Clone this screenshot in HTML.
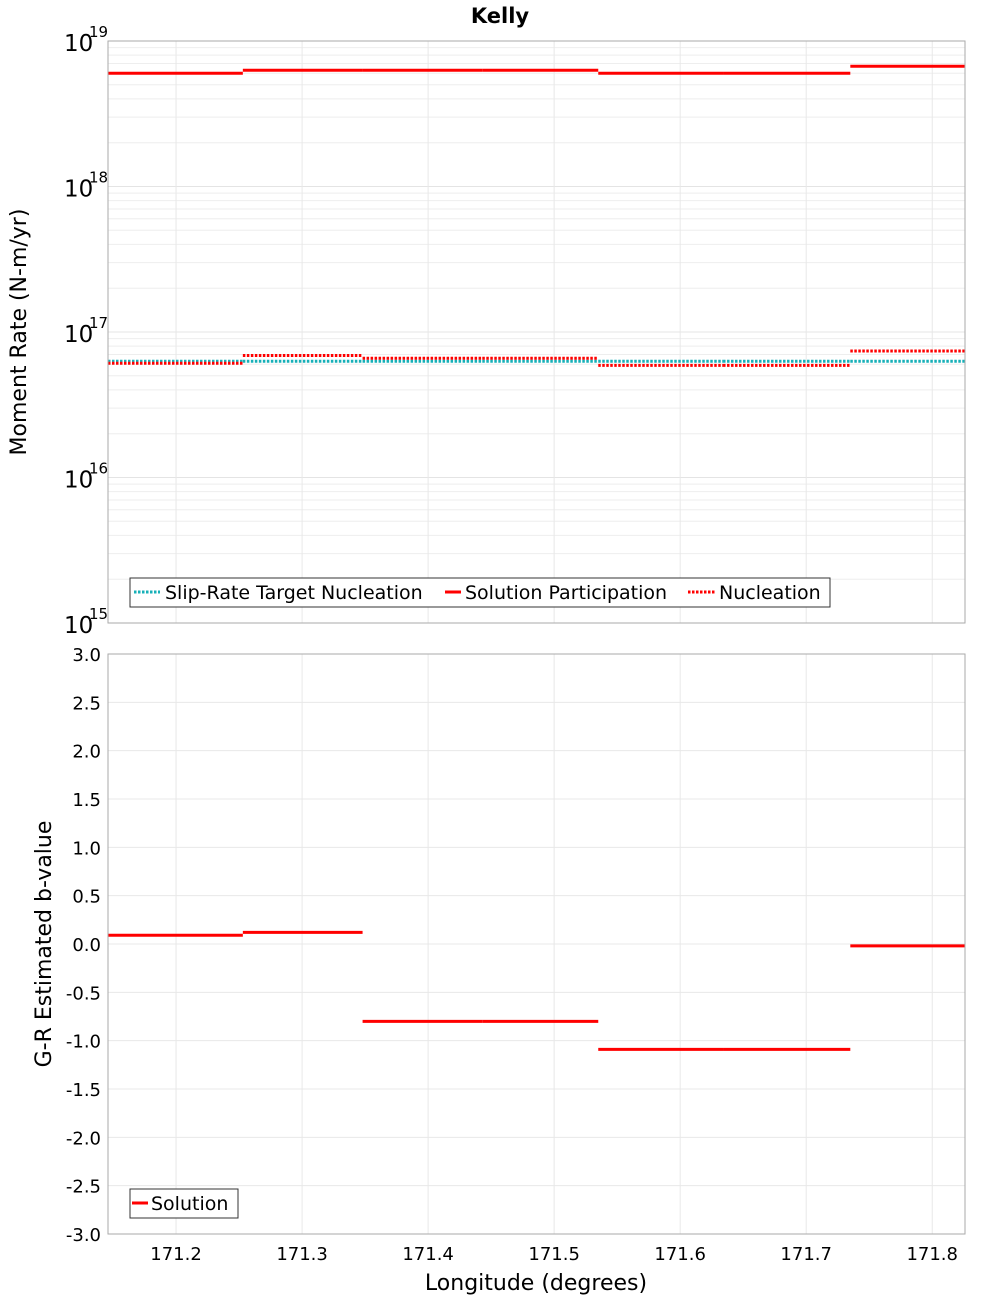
<!DOCTYPE html>
<html><head><meta charset="utf-8"><style>
body{margin:0;background:#fff;font-family:"Liberation Sans","DejaVu Sans",sans-serif;}
</style></head><body>
<svg id="c" width="1000" height="1300" xmlns="http://www.w3.org/2000/svg" font-family="DejaVu Sans, Liberation Sans, sans-serif"></svg>
<script>
const boundaries=[171.146,171.253,171.348,171.443,171.535,171.634,171.735,171.826];
const solutionParticipation=[6.0e18,6.3e18,6.3e18,6.3e18,6.0e18,6.0e18,6.7e18];
const targetNucleation=[6.3e16,6.3e16,6.3e16,6.3e16,6.3e16,6.3e16,6.3e16];
const nucleation=[6.1e16,6.9e16,6.6e16,6.6e16,5.9e16,5.9e16,7.4e16];
const bValues=[0.09,0.12,-0.80,-0.80,-1.09,-1.09,-0.02];
const xTicks=[171.2,171.3,171.4,171.5,171.6,171.7,171.8];
const logDecades=[15,16,17,18,19];
const bTicks=[3.0,2.5,2.0,1.5,1.0,0.5,0.0,-0.5,-1.0,-1.5,-2.0,-2.5,-3.0];

const svg=document.getElementById('c');const NS='http://www.w3.org/2000/svg';
function el(t,a,p,txt){const e=document.createElementNS(NS,t);for(const k in a)e.setAttribute(k,a[k]);if(txt!==undefined)e.textContent=txt;(p||svg).appendChild(e);return e;}
const L=108,R=965,T1=41,B1=623,T2=654,B2=1234;
const xMin=171.146,xMax=171.826;
const X=v=>L+(v-xMin)/(xMax-xMin)*(R-L);
const Y1=v=>B1-(Math.log10(v)-15)/4*(B1-T1);
const Y2=v=>B2-(v+3)/6*(B2-T2);

let t=el('text',{x:500,y:23,'text-anchor':'middle','font-size':21,'font-weight':'bold'},svg,'Kelly');


// Panel 1
const g1=el('g',{});
for(let d=15;d<19;d++)for(let m=2;m<=9;m++){const y=Y1(m*Math.pow(10,d));el('line',{x1:L,x2:R,y1:y,y2:y,stroke:'#eee','stroke-width':1},g1);}
logDecades.forEach(d=>{const y=Y1(Math.pow(10,d));el('line',{x1:L,x2:R,y1:y,y2:y,stroke:'#e4e4e4'},g1);
 const lt=el('text',{x:64,y:y+10,'font-size':23},g1,'10');
 el('text',{x:89,y:y-4,'font-size':15},g1,String(d));});
xTicks.forEach(v=>{el('line',{x1:X(v),x2:X(v),y1:T1,y2:B1,stroke:'#e8e8e8'},g1);});
function steps(g,vals,Y,color,dash,name){for(let i=0;i<vals.length;i++){const l=el('line',{x1:X(boundaries[i]),x2:X(boundaries[i+1]),y1:Y(vals[i]),y2:Y(vals[i]),stroke:color,'stroke-width':3},g);if(dash)l.setAttribute('stroke-dasharray',dash);}}
steps(g1,targetNucleation,Y1,'#17b0b8','2.5 1.5','target-nucleation-segment');
steps(g1,nucleation,Y1,'#ff0000','2.5 1.5','nucleation-segment');
steps(g1,solutionParticipation,Y1,'#ff0000',null,'solution-participation-segment');
el('rect',{x:L,y:T1,width:R-L,height:B1-T1,fill:'none',stroke:'#aaa'},g1);
t=el('text',{x:0,y:0,'font-size':22,'text-anchor':'middle',transform:'translate(26,332) rotate(-90)'},svg,'Moment Rate (N-m/yr)');

const lg=el('g',{});
el('rect',{x:130,y:578,width:700,height:29,fill:'#fff',stroke:'#333'},lg);
el('line',{x1:134,x2:160,y1:592,y2:592,stroke:'#17b0b8','stroke-width':3,'stroke-dasharray':'2.5 1.5'},lg);
el('text',{x:165,y:599,'font-size':19},lg,'Slip-Rate Target Nucleation');
el('line',{x1:445,x2:461,y1:592,y2:592,stroke:'#ff0000','stroke-width':3},lg);
el('text',{x:465,y:599,'font-size':19},lg,'Solution Participation');
el('line',{x1:688,x2:716,y1:592,y2:592,stroke:'#ff0000','stroke-width':3,'stroke-dasharray':'2.5 1.5'},lg);
el('text',{x:719,y:599,'font-size':19},lg,'Nucleation');

// Panel 2
const g2=el('g',{});
bTicks.forEach(v=>{const y=Y2(v);el('line',{x1:L,x2:R,y1:y,y2:y,stroke:'#e8e8e8'},g2);
 const lt=el('text',{x:101,y:y+7,'font-size':18,'text-anchor':'end'},g2,v.toFixed(1));});
xTicks.forEach(v=>{el('line',{x1:X(v),x2:X(v),y1:T2,y2:B2,stroke:'#e8e8e8'},g2);
 const lt=el('text',{x:X(v),y:1260,'font-size':18,'text-anchor':'middle'},g2,v.toFixed(1));});
steps(g2,bValues,Y2,'#ff0000',null,'b-value-segment');
el('rect',{x:L,y:T2,width:R-L,height:B2-T2,fill:'none',stroke:'#aaa'},g2);
t=el('text',{x:0,y:0,'font-size':22,'text-anchor':'middle',transform:'translate(51,944) rotate(-90)'},svg,'G-R Estimated b-value');

t=el('text',{x:536,y:1290,'font-size':22,'text-anchor':'middle'},svg,'Longitude (degrees)');

const lg2=el('g',{});
el('rect',{x:130,y:1189,width:108,height:29,fill:'#fff',stroke:'#333'},lg2);
el('line',{x1:132,x2:148,y1:1203,y2:1203,stroke:'#ff0000','stroke-width':3},lg2);
el('text',{x:151,y:1210,'font-size':19},lg2,'Solution');
</script>
</body></html>
